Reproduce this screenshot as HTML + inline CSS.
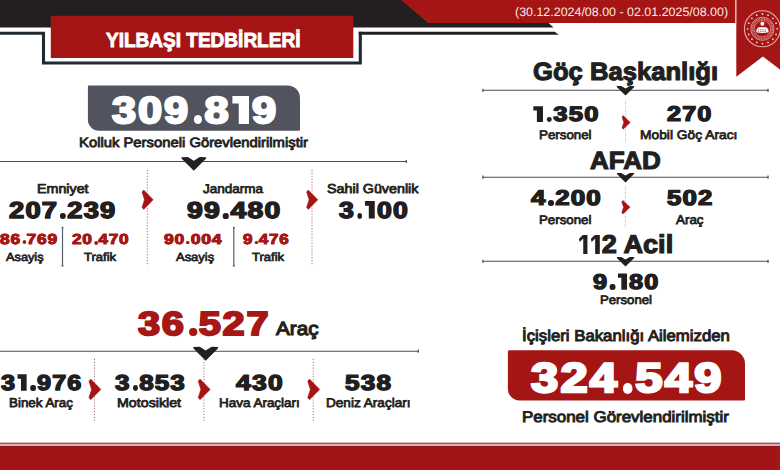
<!DOCTYPE html>
<html lang="tr"><head><meta charset="utf-8"><title>Yılbaşı Tedbirleri</title>
<style>
html,body{margin:0;padding:0;background:#fff;}
body{width:780px;height:470px;overflow:hidden;position:relative;font-family:"Liberation Sans",sans-serif;}
#bg{position:absolute;left:0;top:0;width:780px;height:470px;display:block;}
.t{position:absolute;white-space:nowrap;line-height:1;transform-origin:0 0;text-rendering:geometricPrecision;font-family:"Liberation Sans",sans-serif;}
.h,.s{font-weight:bold;}
.h{stroke-linejoin:round;}
.r,.b{font-weight:normal;}
.o1,.o2{display:inline-block;overflow:hidden;background:currentColor;font-style:normal;}
.o1{width:.385em;height:.758em;vertical-align:-.029em;margin:0 .07em 0 .045em;clip-path:polygon(0 0,100% 0,100% 100%,38% 100%,38% 27%,0 27%);}
.o2{width:.33em;height:.745em;vertical-align:-.0225em;margin:0 .075em 0 .035em;clip-path:polygon(0 21%,48% 0,100% 0,100% 100%,48% 100%,48% 20%,9% 38%);}
.d{display:inline-block;overflow:hidden;font-style:normal;width:.205em;height:.25em;border-radius:50%;background:currentColor;vertical-align:-.029em;margin:0 .05em 0 .075em;}
.z{font-size:0;}
</style></head><body>
<svg id="bg" width="780" height="470" viewBox="0 0 780 470">
<polygon points="0,0 402,0 429,23.1 548.6,23.1 553.6,27.4 0,27.4" fill="#231f20"/>
<polygon points="401,0 735.3,0 735.3,23 428.8,23" fill="#a41514"/>
<polygon points="736.3,0 790,0 790,77 762.9,56.5 736.3,76.7" fill="#a31615"/>
<path d="M0,33.2 H43.5 V63 H360.3 V31.65" fill="none" stroke="#1f2a33" stroke-width="3.1" stroke-linejoin="miter"/>
<polygon points="358.75,31.65 554.8,31.65 558.8,34.75 358.75,34.75" fill="#231f20"/>
<rect x="50.8" y="15.8" width="302.5" height="42.2" fill="#a41514"/>
<path d="M88.9,85.4 H287.5 A12.5,12.5 0 0 1 300,97.9 V129.7 A1,1 0 0 1 299,130.7 H98.9 A11,11 0 0 1 87.9,119.69999999999999 V86.4 A1,1 0 0 1 88.9,85.4 Z" fill="#51535e"/>
<path d="M509.4,350.3 H731.5 A13.5,13.5 0 0 1 745,363.8 V399.4 A1,1 0 0 1 744,400.4 H519.4 A11.5,11.5 0 0 1 507.9,388.9 V351.8 A1.5,1.5 0 0 1 509.4,350.3 Z" fill="#a41514"/>
<path d="M0,161.5 H406.8" stroke="#4d4d4f" stroke-width="1.1" fill="none"/><path d="M406.3,159.9 V163.1" stroke="#4d4d4f" stroke-width="1.2"/>
<path d="M0,351.2 H418.7" stroke="#4d4d4f" stroke-width="1.1" fill="none"/><path d="M418.2,349.59999999999997 V352.8" stroke="#4d4d4f" stroke-width="1.2"/>
<path d="M482.5,90.3 H768.5" stroke="#4d4d4f" stroke-width="1.1" fill="none"/><path d="M768.0,88.7 V91.89999999999999" stroke="#4d4d4f" stroke-width="1.2"/><path d="M483.0,88.7 V91.89999999999999" stroke="#4d4d4f" stroke-width="1.2"/>
<path d="M482.5,177.2 H768.5" stroke="#4d4d4f" stroke-width="1.1" fill="none"/><path d="M768.0,175.6 V178.79999999999998" stroke="#4d4d4f" stroke-width="1.2"/><path d="M483.0,175.6 V178.79999999999998" stroke="#4d4d4f" stroke-width="1.2"/>
<path d="M482.5,261.3 H768.5" stroke="#4d4d4f" stroke-width="1.1" fill="none"/><path d="M768.0,259.7 V262.90000000000003" stroke="#4d4d4f" stroke-width="1.2"/><path d="M483.0,259.7 V262.90000000000003" stroke="#4d4d4f" stroke-width="1.2"/>
<polygon points="181.40,157.20 187.85,157.10 193.80,160.77 199.75,157.10 206.20,157.20 205.90,158.73 193.80,170.70 181.70,158.73" fill="#231f20"/>
<polygon points="193.20,346.90 199.70,346.80 205.70,350.55 211.70,346.80 218.20,346.90 217.90,348.47 205.70,360.70 193.50,348.47" fill="#231f20"/>
<polygon points="616.70,86.10 621.28,86.00 625.50,88.56 629.72,86.00 634.30,86.10 634.00,87.14 625.50,95.50 617.00,87.14" fill="#231f20"/>
<polygon points="616.70,173.00 621.28,172.90 625.50,175.46 629.72,172.90 634.30,173.00 634.00,174.04 625.50,182.40 617.00,174.04" fill="#231f20"/>
<polygon points="616.70,257.10 621.28,257.00 625.50,259.56 629.72,257.00 634.30,257.10 634.00,258.14 625.50,266.50 617.00,258.14" fill="#231f20"/>
<path d="M147.3,170 V266" stroke="#a87075" stroke-width="1" stroke-dasharray="1.2 1.7" fill="none"/>
<path d="M312,170 V266" stroke="#a87075" stroke-width="1" stroke-dasharray="1.2 1.7" fill="none"/>
<path d="M94.5,358.8 V421" stroke="#a87075" stroke-width="1" stroke-dasharray="1.2 1.7" fill="none"/>
<path d="M203.9,358.8 V421" stroke="#a87075" stroke-width="1" stroke-dasharray="1.2 1.7" fill="none"/>
<path d="M313.2,358.8 V421" stroke="#a87075" stroke-width="1" stroke-dasharray="1.2 1.7" fill="none"/>
<path d="M625.6,101 V142.5" stroke="#b39a9d" stroke-width="0.8" stroke-dasharray="0.9 1.1" fill="none"/>
<path d="M625.3,186 V227.5" stroke="#b39a9d" stroke-width="0.8" stroke-dasharray="0.9 1.1" fill="none"/>
<polygon points="142.00,192.04 143.68,190.00 153.20,199.70 143.68,209.40 142.00,207.36 144.46,199.70" fill="#a41514" stroke="#a41514" stroke-width="0.5" stroke-linejoin="round"/>
<polygon points="306.60,192.04 308.28,190.00 317.80,199.70 308.28,209.40 306.60,207.36 309.06,199.70" fill="#a41514" stroke="#a41514" stroke-width="0.5" stroke-linejoin="round"/>
<polygon points="88.90,381.18 90.70,379.00 100.90,389.40 90.70,399.80 88.90,397.62 91.54,389.40" fill="#a41514" stroke="#a41514" stroke-width="0.5" stroke-linejoin="round"/>
<polygon points="198.20,381.18 200.00,379.00 210.20,389.40 200.00,399.80 198.20,397.62 200.84,389.40" fill="#a41514" stroke="#a41514" stroke-width="0.5" stroke-linejoin="round"/>
<polygon points="307.70,381.18 309.50,379.00 319.70,389.40 309.50,399.80 307.70,397.62 310.34,389.40" fill="#a41514" stroke="#a41514" stroke-width="0.5" stroke-linejoin="round"/>
<polygon points="622.00,117.03 623.23,115.60 630.20,122.40 623.23,129.20 622.00,127.77 623.80,122.40" fill="#a41514" stroke="#a41514" stroke-width="0.5" stroke-linejoin="round"/>
<polygon points="621.70,201.83 622.96,200.40 630.10,207.20 622.96,214.00 621.70,212.57 623.55,207.20" fill="#a41514" stroke="#a41514" stroke-width="0.5" stroke-linejoin="round"/>
<path d="M62.5,227.5 V266" stroke="#56606b" stroke-width="1.2"/>
<circle cx="62.5" cy="227.8" r="1" fill="#56606b"/><circle cx="62.5" cy="265.8" r="1" fill="#56606b"/>
<path d="M233.8,227.5 V266" stroke="#56606b" stroke-width="1.2"/>
<circle cx="233.8" cy="227.8" r="1" fill="#56606b"/><circle cx="233.8" cy="265.8" r="1" fill="#56606b"/>
<rect x="0" y="442.6" width="780" height="1.4" fill="#9c5563"/>
<rect x="0" y="444" width="780" height="2" fill="#eaa9ac"/>
<rect x="0" y="446" width="780" height="1.2" fill="#8a1c1f"/>
<rect x="0" y="447" width="780" height="23" fill="#a31414"/>
<rect x="735.3" y="0" width="1" height="23" fill="#efaaa3"/>
<g fill="none" stroke="#e9a9a5">
<circle cx="762.4" cy="28.8" r="18" stroke-width="1.1"/>
<circle cx="762.4" cy="28.8" r="11.6" stroke-width="0.8"/>
<circle cx="762.4" cy="28.8" r="9.9" stroke-width="2" stroke-dasharray="0.9 0.7" stroke="#dc8c88"/>
<circle cx="762.4" cy="28.8" r="8.2" stroke-width="0.7"/>
</g>
<circle cx="762.40" cy="14.00" r="0.9" fill="#f6d3cf"/>
<circle cx="768.06" cy="15.13" r="0.9" fill="#f6d3cf"/>
<circle cx="772.87" cy="18.33" r="0.9" fill="#f6d3cf"/>
<circle cx="776.07" cy="23.14" r="0.9" fill="#f6d3cf"/>
<circle cx="777.20" cy="28.80" r="0.9" fill="#f6d3cf"/>
<circle cx="776.07" cy="34.46" r="0.9" fill="#f6d3cf"/>
<circle cx="772.87" cy="39.27" r="0.9" fill="#f6d3cf"/>
<circle cx="768.06" cy="42.47" r="0.9" fill="#f6d3cf"/>
<circle cx="762.40" cy="43.60" r="0.9" fill="#f6d3cf"/>
<circle cx="756.74" cy="42.47" r="0.9" fill="#f6d3cf"/>
<circle cx="751.93" cy="39.27" r="0.9" fill="#f6d3cf"/>
<circle cx="748.73" cy="34.46" r="0.9" fill="#f6d3cf"/>
<circle cx="747.60" cy="28.80" r="0.9" fill="#f6d3cf"/>
<circle cx="748.73" cy="23.14" r="0.9" fill="#f6d3cf"/>
<circle cx="751.93" cy="18.33" r="0.9" fill="#f6d3cf"/>
<circle cx="756.74" cy="15.13" r="0.9" fill="#f6d3cf"/>
<circle cx="762.4" cy="23.8" r="2.0" fill="#fff"/>
<path d="M756.1999999999999,32.2 Q756.1999999999999,27.2 759.9,27.2 H764.9 Q768.6,27.2 768.6,32.2 Q762.4,33.8 756.1999999999999,32.2 Z" fill="#fff"/>
<path d="M757.8,29.8 H767.0 M757.8,31.400000000000002 H767.0" stroke="#c45" stroke-width="0.9" stroke-dasharray="1.4 0.9"/>
</svg>
<span class="t s" style="left:106.19px;top:30.68px;font-size:20.31px;color:#ffffff;transform:scaleX(0.9371);-webkit-text-stroke:0.91px #ffffff;">YILBAŞI TEDBİRLERİ</span>
<span class="t r" style="left:514.94px;top:6.00px;font-size:12.28px;color:#fbe9e6;transform:scaleX(1.0142);">(30.12.2024/08.00 - 02.01.2025/08.00)</span>
<span class="t h" style="left:111.72px;top:92.13px;font-size:37.57px;color:#ffffff;transform:scaleX(1.1532);-webkit-text-stroke:2.18px #ffffff;text-shadow:0.68px 0 0 #ffffff,-0.68px 0 0 #ffffff;letter-spacing:1.69px;">309<i class="d"><span class="z">.</span></i>8<i class="o1"><span class="z">1</span></i>9</span>
<span class="t b" style="left:79.02px;top:136.07px;font-size:13.50px;color:#231f20;transform:scaleX(1.0979);-webkit-text-stroke:0.81px #231f20;">Kolluk Personeli Görevlendirilmiştir</span>
<span class="t b" style="left:37.06px;top:182.49px;font-size:12.98px;color:#231f20;transform:scaleX(1.0999);-webkit-text-stroke:0.78px #231f20;">Emniyet</span>
<span class="t h" style="left:9.35px;top:198.87px;font-size:23.07px;color:#231f20;transform:scaleX(1.1840);-webkit-text-stroke:1.34px #231f20;text-shadow:0.42px 0 0 #231f20,-0.42px 0 0 #231f20;letter-spacing:1.04px;">207<i class="d"><span class="z">.</span></i>239</span>
<span class="t h" style="left:-0.05px;top:232.69px;font-size:14.57px;color:#a61716;transform:scaleX(1.1918);-webkit-text-stroke:0.84px #a61716;text-shadow:0.26px 0 0 #a61716,-0.26px 0 0 #a61716;letter-spacing:0.66px;">86<i class="d"><span class="z">.</span></i>769</span>
<span class="t h" style="left:72.11px;top:233.22px;font-size:14.60px;color:#a61716;transform:scaleX(1.1788);-webkit-text-stroke:0.85px #a61716;text-shadow:0.26px 0 0 #a61716,-0.26px 0 0 #a61716;letter-spacing:0.66px;">20<i class="d"><span class="z">.</span></i>470</span>
<span class="t b" style="left:6.37px;top:251.71px;font-size:11.77px;color:#231f20;transform:scaleX(1.0835);-webkit-text-stroke:0.71px #231f20;">Asayiş</span>
<span class="t b" style="left:83.55px;top:251.67px;font-size:11.81px;color:#231f20;transform:scaleX(1.1032);-webkit-text-stroke:0.71px #231f20;">Trafik</span>
<span class="t b" style="left:203.02px;top:183.28px;font-size:12.66px;color:#231f20;transform:scaleX(1.0685);-webkit-text-stroke:0.76px #231f20;">Jandarma</span>
<span class="t h" style="left:187.17px;top:198.88px;font-size:23.06px;color:#231f20;transform:scaleX(1.2300);-webkit-text-stroke:1.34px #231f20;text-shadow:0.42px 0 0 #231f20,-0.42px 0 0 #231f20;letter-spacing:1.04px;">99<i class="d"><span class="z">.</span></i>480</span>
<span class="t h" style="left:164.38px;top:232.89px;font-size:14.40px;color:#a61716;transform:scaleX(1.2161);-webkit-text-stroke:0.84px #a61716;text-shadow:0.26px 0 0 #a61716,-0.26px 0 0 #a61716;letter-spacing:0.65px;">90<i class="d"><span class="z">.</span></i>004</span>
<span class="t h" style="left:242.52px;top:232.72px;font-size:14.55px;color:#a61716;transform:scaleX(1.1698);-webkit-text-stroke:0.84px #a61716;text-shadow:0.26px 0 0 #a61716,-0.26px 0 0 #a61716;letter-spacing:0.65px;">9<i class="d"><span class="z">.</span></i>476</span>
<span class="t b" style="left:176.29px;top:251.76px;font-size:11.71px;color:#231f20;transform:scaleX(1.1060);-webkit-text-stroke:0.70px #231f20;">Asayiş</span>
<span class="t b" style="left:252.05px;top:251.67px;font-size:11.81px;color:#231f20;transform:scaleX(1.1032);-webkit-text-stroke:0.71px #231f20;">Trafik</span>
<span class="t b" style="left:326.90px;top:182.53px;font-size:12.93px;color:#231f20;transform:scaleX(1.1071);-webkit-text-stroke:0.78px #231f20;">Sahil Güvenlik</span>
<span class="t h" style="left:338.63px;top:198.88px;font-size:23.06px;color:#231f20;transform:scaleX(1.1532);-webkit-text-stroke:1.34px #231f20;text-shadow:0.42px 0 0 #231f20,-0.42px 0 0 #231f20;letter-spacing:1.04px;">3<i class="d"><span class="z">.</span></i><i class="o1"><span class="z">1</span></i>00</span>
<span class="t h" style="left:138.16px;top:308.21px;font-size:33.42px;color:#a61716;transform:scaleX(1.1872);-webkit-text-stroke:1.94px #a61716;text-shadow:0.60px 0 0 #a61716,-0.60px 0 0 #a61716;letter-spacing:1.50px;">36<i class="d"><span class="z">.</span></i>527</span>
<span class="t b" style="left:275.75px;top:320.26px;font-size:19.06px;color:#231f20;transform:scaleX(1.0845);-webkit-text-stroke:1.14px #231f20;">Araç</span>
<span class="t h" style="left:1.31px;top:372.03px;font-size:21.58px;color:#231f20;transform:scaleX(1.1669);-webkit-text-stroke:1.25px #231f20;text-shadow:0.39px 0 0 #231f20,-0.39px 0 0 #231f20;letter-spacing:0.97px;">3<i class="o1"><span class="z">1</span></i><i class="d"><span class="z">.</span></i>976</span>
<span class="t b" style="left:8.84px;top:396.54px;font-size:12.72px;color:#231f20;transform:scaleX(1.0509);-webkit-text-stroke:0.76px #231f20;">Binek Araç</span>
<span class="t h" style="left:115.09px;top:371.93px;font-size:21.56px;color:#231f20;transform:scaleX(1.2049);-webkit-text-stroke:1.25px #231f20;text-shadow:0.39px 0 0 #231f20,-0.39px 0 0 #231f20;letter-spacing:0.97px;">3<i class="d"><span class="z">.</span></i>853</span>
<span class="t b" style="left:116.59px;top:396.63px;font-size:12.60px;color:#231f20;transform:scaleX(1.1298);-webkit-text-stroke:0.76px #231f20;">Motosiklet</span>
<span class="t h" style="left:235.60px;top:371.98px;font-size:21.62px;color:#231f20;transform:scaleX(1.2274);-webkit-text-stroke:1.25px #231f20;text-shadow:0.39px 0 0 #231f20,-0.39px 0 0 #231f20;letter-spacing:0.97px;">430</span>
<span class="t b" style="left:219.12px;top:396.72px;font-size:12.49px;color:#231f20;transform:scaleX(1.0781);-webkit-text-stroke:0.75px #231f20;">Hava Araçları</span>
<span class="t h" style="left:345.18px;top:373.07px;font-size:21.52px;color:#231f20;transform:scaleX(1.2138);-webkit-text-stroke:1.25px #231f20;text-shadow:0.39px 0 0 #231f20,-0.39px 0 0 #231f20;letter-spacing:0.97px;">538</span>
<span class="t b" style="left:325.87px;top:396.56px;font-size:12.69px;color:#231f20;transform:scaleX(1.0706);-webkit-text-stroke:0.76px #231f20;">Deniz Araçları</span>
<span class="t s" style="left:532.55px;top:60.41px;font-size:24.96px;color:#231f20;transform:scaleX(1.0267);-webkit-text-stroke:1.12px #231f20;">Göç Başkanlığı</span>
<span class="t h" style="left:532.30px;top:105.34px;font-size:20.81px;color:#231f20;transform:scaleX(1.2345);-webkit-text-stroke:1.21px #231f20;text-shadow:0.37px 0 0 #231f20,-0.37px 0 0 #231f20;letter-spacing:0.94px;"><i class="o1"><span class="z">1</span></i><i class="d"><span class="z">.</span></i>350</span>
<span class="t h" style="left:667.25px;top:103.70px;font-size:21.28px;color:#231f20;transform:scaleX(1.1861);-webkit-text-stroke:1.23px #231f20;text-shadow:0.38px 0 0 #231f20,-0.38px 0 0 #231f20;letter-spacing:0.96px;">270</span>
<span class="t b" style="left:539.06px;top:129.44px;font-size:12.49px;color:#231f20;transform:scaleX(1.0671);-webkit-text-stroke:0.75px #231f20;">Personel</span>
<span class="t b" style="left:639.88px;top:129.46px;font-size:12.43px;color:#231f20;transform:scaleX(1.1109);-webkit-text-stroke:0.75px #231f20;">Mobil Göç Aracı</span>
<span class="t s" style="left:589.73px;top:149.27px;font-size:24.93px;color:#231f20;transform:scaleX(1.0445);-webkit-text-stroke:1.12px #231f20;">AFAD</span>
<span class="t h" style="left:531.03px;top:188.21px;font-size:21.44px;color:#231f20;transform:scaleX(1.2106);-webkit-text-stroke:1.24px #231f20;text-shadow:0.39px 0 0 #231f20,-0.39px 0 0 #231f20;letter-spacing:0.96px;">4<i class="d"><span class="z">.</span></i>200</span>
<span class="t h" style="left:667.09px;top:188.44px;font-size:21.44px;color:#231f20;transform:scaleX(1.1999);-webkit-text-stroke:1.24px #231f20;text-shadow:0.39px 0 0 #231f20,-0.39px 0 0 #231f20;letter-spacing:0.96px;">502</span>
<span class="t b" style="left:539.12px;top:214.35px;font-size:12.33px;color:#231f20;transform:scaleX(1.0774);-webkit-text-stroke:0.74px #231f20;">Personel</span>
<span class="t b" style="left:676.06px;top:213.70px;font-size:12.76px;color:#231f20;transform:scaleX(1.0498);-webkit-text-stroke:0.77px #231f20;">Araç</span>
<span class="t s" style="left:578.19px;top:233.36px;font-size:25.73px;color:#231f20;transform:scaleX(1.0547);-webkit-text-stroke:1.16px #231f20;"><i class="o2"><span class="z">1</span></i><i class="o2"><span class="z">1</span></i>2 Acil</span>
<span class="t h" style="left:593.36px;top:272.04px;font-size:21.33px;color:#231f20;transform:scaleX(1.1845);-webkit-text-stroke:1.24px #231f20;text-shadow:0.38px 0 0 #231f20,-0.38px 0 0 #231f20;letter-spacing:0.96px;">9<i class="d"><span class="z">.</span></i><i class="o1"><span class="z">1</span></i>80</span>
<span class="t b" style="left:599.70px;top:294.35px;font-size:12.33px;color:#231f20;transform:scaleX(1.0693);-webkit-text-stroke:0.74px #231f20;">Personel</span>
<span class="t b" style="left:522.08px;top:328.61px;font-size:15.67px;color:#231f20;transform:scaleX(1.0716);-webkit-text-stroke:0.94px #231f20;">İçişleri Bakanlığı Ailemizden</span>
<span class="t h" style="left:531.22px;top:357.38px;font-size:41.47px;color:#ffffff;transform:scaleX(1.1792);-webkit-text-stroke:2.41px #ffffff;text-shadow:0.75px 0 0 #ffffff,-0.75px 0 0 #ffffff;letter-spacing:1.87px;">324<i class="d"><span class="z">.</span></i>549</span>
<span class="t b" style="left:521.69px;top:409.54px;font-size:15.31px;color:#231f20;transform:scaleX(1.1061);-webkit-text-stroke:0.92px #231f20;">Personel Görevlendirilmiştir</span>
</body></html>
